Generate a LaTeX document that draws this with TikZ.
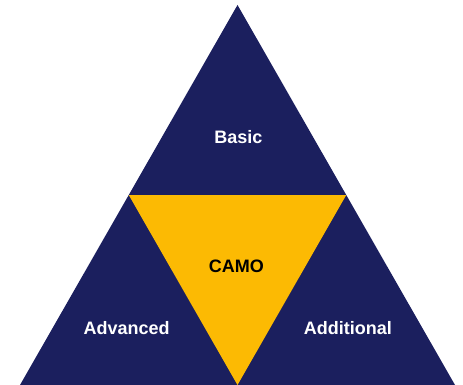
\documentclass[tikz,border=0pt]{standalone}
\usepackage{fontspec}
\setmainfont{Liberation Sans}
\definecolor{navy}{RGB}{27,31,94}
\definecolor{gold}{RGB}{252,186,3}
\begin{document}
\begin{tikzpicture}[x=1pt,y=-1pt,
  lbl/.style={font=\fontsize{18}{21}\selectfont\bfseries, anchor=base, inner sep=0pt}]
\useasboundingbox (0,0) rectangle (463,385);
\coordinate (apex) at (237.5,5);
\coordinate (bl) at (20,385);
\coordinate (br) at (455,385);
\coordinate (ml) at (128.75,195);
\coordinate (mr) at (346.25,195);
\coordinate (bm) at (237.5,385);
\fill[navy] (apex) -- (bl) -- (br) -- cycle;
\fill[gold] (ml) -- (mr) -- (bm) -- cycle;
\node[lbl, text=white] (basic) at (238.3,143.5) {Basic};
\node[lbl, text=black] (camo) at (236.3,272) {CAMO};
\node[lbl, text=white] (adv) at (126.7,334.2) {Advanced};
\node[lbl, text=white] (add) at (347.8,334.2) {Additional};
\end{tikzpicture}
\end{document}
